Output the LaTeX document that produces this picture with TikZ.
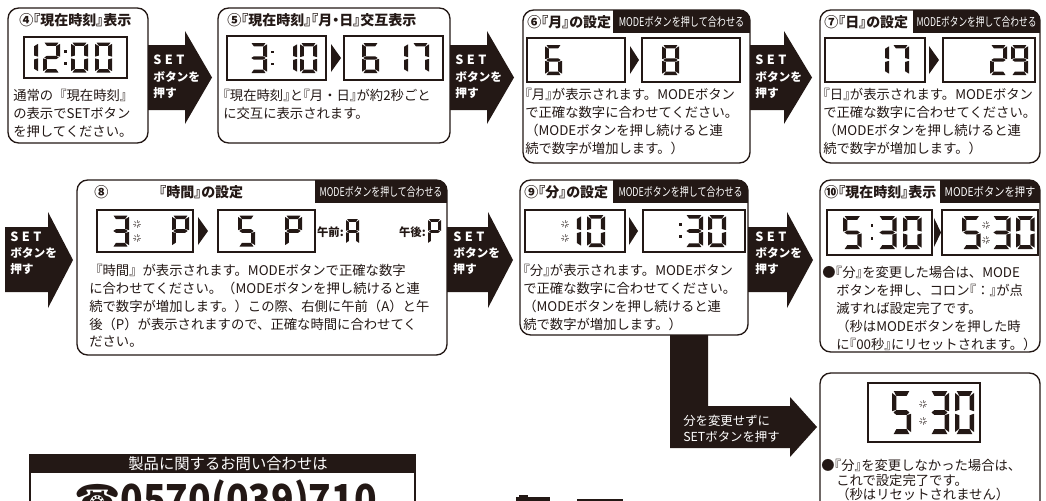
\documentclass[tikz,border=0pt]{standalone}
\usepackage{fontspec}
\setmainfont{Noto Sans CJK JP}
\newfontfamily\jpp{Noto Sans CJK JP}[RawFeature=+palt]
\newfontfamily\symfont{DejaVu Sans}
\definecolor{ink}{RGB}{35,24,21}
\def\sga{\fill[ink] (0.9,0)--(9.1,0)--(7.7,2.3)--(2.3,2.3)--cycle;}
\def\sgb{\fill[ink] (10,0.9)--(10,9.4)--(7.7,8.7)--(7.7,2.5)--cycle;}
\def\sgc{\fill[ink] (10,10.6)--(10,19.1)--(7.7,17.5)--(7.7,11.3)--cycle;}
\def\sgd{\fill[ink] (0.9,20)--(9.1,20)--(7.7,17.7)--(2.3,17.7)--cycle;}
\def\sge{\fill[ink] (0,10.6)--(0,19.1)--(2.3,17.5)--(2.3,11.3)--cycle;}
\def\sgf{\fill[ink] (0,0.9)--(0,9.4)--(2.3,8.7)--(2.3,2.5)--cycle;}
\def\sgg{\fill[ink] (0.8,10)--(2.3,8.85)--(7.7,8.85)--(9.2,10)--(7.7,11.15)--(2.3,11.15)--cycle;}
\newcommand\dg[5]{\begin{scope}[shift={(#1,#2)},xscale=#3,yscale=#4]\foreach \s in {#5}{\csname sg\s\endcsname}\end{scope}}
\newcommand\cln[3]{\fill[ink] (#1,#2) rectangle ++(2.8,2.8); \fill[ink] (#1,#3) rectangle ++(2.8,2.8);}
\newcommand\spk[2]{\foreach \ang in {0,45,...,315}{\draw[spark] (#1,#2) ++(\ang:1.3) -- ++(\ang:2.3);}}
\newcommand\txt[5]{\foreach \lineT [count=\i] in {#5}{\node[body] (#1\i) at (#2,{#3+(\i-1)*#4}) {\lineT};}}
\newcommand\bigarr[7]{\fill[ink] (#1,#4) -- (#2,#4) -- (#2,#6) -- (#3,{(#6+#7)/2}) -- (#2,#7) -- (#2,#5) -- (#1,#5) -- cycle;}
\newcommand\tri[4]{\fill[ink] (#1,#3) -- (#2,{(#3+#4)/2}) -- (#1,#4) -- cycle;}
\newcommand\ob[1]{\makebox[0.5em][r]{#1}}
\newcommand\cb[1]{\makebox[0.5em][l]{#1}}
\newcommand\tabt[2]{\resizebox{#1}{7.6pt}{\fontsize{9pt}{10pt}\selectfont #2}}
\newcommand\SET{S\hspace{2.6pt}E\hspace{2.6pt}T}
\tikzset{
 box/.style={draw=ink, line width=1pt, rounded corners=8pt},
 lcd/.style={draw=ink, line width=0.9pt},
 body/.style={anchor=west, inner sep=0pt, text=ink, font=\fontsize{10pt}{12pt}\selectfont},
 ttl/.style={anchor=west, inner sep=0pt, text=ink, font=\jpp\bfseries\fontsize{10.5pt}{12pt}\selectfont},
 tabtxt/.style={inner sep=0pt, text=white},
 arrtxt/.style={anchor=west, inner sep=0pt, text=white, font=\bfseries\fontsize{8.8pt}{12pt}\selectfont},
 settxt/.style={anchor=west, inner sep=0pt, text=white, font=\bfseries\fontsize{9.5pt}{12pt}\selectfont},
 ltxt/.style={anchor=west, inner sep=0pt, text=white, font=\fontsize{9.3pt}{11pt}\selectfont},
 ampm/.style={anchor=east, inner sep=0pt, text=ink, font=\jpp\bfseries\fontsize{8.5pt}{10pt}\selectfont},
 spark/.style={line width=0.6pt, draw=ink!55},
}
\begin{document}
\begin{tikzpicture}[x=0.75pt,y=-0.75pt]
\useasboundingbox (0,0) rectangle (1046,500);
\clip (0,0) rectangle (1046,500);
\fill[white] (0,0) rectangle (1046,500);
% ---------- box 4
\draw[box] (8,8) rectangle (148,143);
\node[ttl] (t4) at (19,20) {④『現在時刻』表示};
\draw[lcd] (24,37) rectangle (127,78);
\dg{21}{42.5}{1.7}{1.5}{b,c}
\dg{43}{42.5}{1.7}{1.5}{a,b,g,e,d}
\cln{64}{50}{62}
\dg{71}{42.5}{1.7}{1.5}{a,b,c,d,e,f}
\dg{95}{42.5}{1.7}{1.5}{a,b,c,d,e,f}
\txt{b4l}{13}{95}{18}{通常の『現在時刻』,の表示でSETボタン,を押してください。}
% arrow 1
\bigarr{148}{185}{212}{45}{110}{31}{124}
\node[settxt] (a1) at (153,60) {\SET};
\node[arrtxt] (a1b) at (153,77) {ボタンを};
\node[arrtxt] (a1c) at (153,93) {押す};
% ---------- box 5
\draw[box] (218,8) rectangle (450,143);
\node[ttl] (t5) at (227,20) {⑤『現在時刻』『月・日』交互表示};
\draw[lcd] (227,36) rectangle (326,80);
\dg{250}{43}{1.7}{1.5}{a,b,g,c,d}
\cln{271}{50.5}{62.5}
\dg{280}{43}{1.7}{1.5}{b,c}
\dg{300}{43}{1.7}{1.5}{a,b,c,d,e,f}
\tri{331}{341}{44}{72}
\draw[lcd] (344,36) rectangle (443,80);
\dg{362}{43}{1.7}{1.5}{a,f,g,e,c,d}
\dg{391}{43}{1.7}{1.5}{b,c}
\dg{412}{43}{1.7}{1.5}{a,b,c}
\txt{b5l}{223}{95}{18}{\ob{『}現在時刻\cb{』}と\ob{『}月・日\cb{』}が約2秒ごと,に交互に表示されます。}
% arrow 2
\bigarr{450}{487}{514}{45}{110}{31}{124}
\node[settxt] (a2) at (455,60) {\SET};
\node[arrtxt] (a2b) at (455,77) {ボタンを};
\node[arrtxt] (a2c) at (455,93) {押す};
% ---------- box 6
\begin{scope}
\clip[rounded corners=8pt] (523,10) rectangle (750,163);
\fill[ink] (613,10) rectangle (750,33);
\end{scope}
\draw[box] (523,10) rectangle (750,163);
\node[ttl] (t6) at (527,22) {⑥『月』の設定};
\node[tabtxt] (m6) at (681.5,21.5) {\tabt{94pt}{MODEボタンを押して合わせる}};
\draw[lcd] (527,38) rectangle (625,82);
\dg{545}{45}{1.7}{1.5}{a,f,g,e,c,d}
\tri{630}{639}{46}{74}
\draw[lcd] (642,38) rectangle (740,82);
\dg{662}{45}{1.7}{1.5}{a,b,c,d,e,f,g}
\txt{b6l}{525}{94}{18}{\ob{『}月\cb{』}が表示されます。MODEボタン,で正確な数字に合わせてください。,（MODEボタンを押し続けると連,続で数字が増加します。）}
% arrow 3
\bigarr{750}{784}{812}{45}{110}{31}{124}
\node[settxt] (a3) at (755,60) {\SET};
\node[arrtxt] (a3b) at (755,77) {ボタンを};
\node[arrtxt] (a3c) at (755,93) {押す};
% ---------- box 7
\begin{scope}
\clip[rounded corners=8pt] (820,10) rectangle (1040,163);
\fill[ink] (913,10) rectangle (1040,33);
\end{scope}
\draw[box] (820,10) rectangle (1040,163);
\node[ttl] (t7) at (824,22) {⑦『日』の設定};
\node[tabtxt] (m7) at (976.5,21.5) {\tabt{90pt}{MODEボタンを押して合わせる}};
\draw[lcd] (825,38) rectangle (925,82);
\dg{872}{45}{1.7}{1.5}{b,c}
\dg{892}{45}{1.7}{1.5}{a,b,c}
\tri{929}{939}{46}{74}
\draw[lcd] (943,38) rectangle (1035,82);
\dg{990}{45}{1.7}{1.5}{a,b,g,e,d}
\dg{1011}{45}{1.7}{1.5}{a,b,c,d,f,g}
\txt{b7l}{823}{94}{18}{\ob{『}日\cb{』}が表示されます。MODEボタン,で正確な数字に合わせてください。,（MODEボタンを押し続けると連,続で数字が増加します。）}
% ---------- arrow 4 (left)
\bigarr{5}{48}{73}{227}{292}{212}{308}
\node[settxt] (a4) at (10,237) {\SET};
\node[arrtxt] (a4b) at (10,253) {ボタンを};
\node[arrtxt] (a4c) at (10,269) {押す};
% ---------- box 8
\begin{scope}
\clip[rounded corners=8pt] (77,180) rectangle (447,355);
\fill[ink] (315,180) rectangle (447,203);
\end{scope}
\draw[box] (77,180) rectangle (447,355);
\node[ttl] (t8a) at (94,192) {⑧};
\node[ttl] (t8) at (159,192) {『時間』の設定};
\node[tabtxt] (m8) at (381,191.5) {\tabt{92pt}{MODEボタンを押して合わせる}};
\draw[lcd] (97,210) rectangle (193,252);
\dg{112}{215.5}{1.7}{1.55}{a,b,g,c,d}
\spk{137}{224}
\spk{137}{238}
\dg{172}{215.5}{1.7}{1.55}{a,b,e,f,g}
\tri{198}{208}{217}{245}
\draw[lcd] (218,210) rectangle (315,252);
\dg{238}{215.5}{1.7}{1.55}{a,f,g,c,d}
\dg{285}{215.5}{1.7}{1.55}{a,b,e,f,g}
\node[ampm] (am) at (344,232) {午前:};
\dg{346}{219}{1.3}{1.25}{a,b,c,e,f,g}
\node[ampm] (pm) at (426,232) {午後:};
\dg{428}{219}{1.3}{1.25}{a,b,e,f,g}
\txt{b8l}{89}{270}{18}{『時間』が表示されます。MODEボタンで正確な数字,に合わせてください。（MODEボタンを押し続けると連,続で数字が増加します。）この際、右側に午前（A）と午,後（P）が表示されますので、正確な時間に合わせてく,ださい。}
% arrow 5
\bigarr{447}{488}{513}{227}{292}{212}{308}
\node[settxt] (a5) at (453,237) {\SET};
\node[arrtxt] (a5b) at (453,253) {ボタンを};
\node[arrtxt] (a5c) at (453,269) {押す};
% ---------- box 9
\begin{scope}
\clip[rounded corners=8pt] (520,180) rectangle (748,335);
\fill[ink] (613,180) rectangle (748,203);
\end{scope}
\draw[box] (520,180) rectangle (748,335);
\node[ttl] (t9) at (524,192) {⑨『分』の設定};
\node[tabtxt] (m9) at (680.5,191.5) {\tabt{93pt}{MODEボタンを押して合わせる}};
\draw[lcd] (525,210) rectangle (625,252);
\spk{565}{224}
\spk{565}{238}
\dg{563}{215}{1.8}{1.6}{b,c}
\dg{587}{215}{1.8}{1.6}{a,b,c,d,e,f}
\tri{629}{638}{217}{245}
\draw[lcd] (643,210) rectangle (745,252);
\cln{679}{223}{235}
\dg{685}{215}{1.8}{1.6}{a,b,g,c,d}
\dg{708}{215}{1.8}{1.6}{a,b,c,d,e,f}
\txt{b9l}{523}{270}{18}{\ob{『}分\cb{』}が表示されます。MODEボタン,で正確な数字に合わせてください。,（MODEボタンを押し続けると連,続で数字が増加します。）}
% arrow 6
\bigarr{748}{787}{813}{227}{292}{212}{308}
\node[settxt] (a6) at (755,237) {\SET};
\node[arrtxt] (a6b) at (755,253) {ボタンを};
\node[arrtxt] (a6c) at (755,269) {押す};
% ---------- box 10
\begin{scope}
\clip[rounded corners=8pt] (820,180) rectangle (1040,352);
\fill[ink] (940,180) rectangle (1040,203);
\end{scope}
\draw[box] (820,180) rectangle (1040,352);
\node[ttl] (t10) at (824,192) {⑩『現在時刻』表示};
\node[tabtxt] (m10) at (990,191.5) {\tabt{68pt}{MODEボタンを押す}};
\draw[lcd] (827,210) rectangle (932,255);
\dg{843}{216}{1.85}{1.65}{a,f,g,c,d}
\cln{870.5}{224}{237}
\dg{878}{216}{1.85}{1.65}{a,b,g,c,d}
\dg{903}{216}{1.85}{1.65}{a,b,c,d,e,f}
\tri{934}{941}{218}{247}
\draw[lcd] (942,210) rectangle (1038,255);
\dg{962}{216}{1.85}{1.65}{a,f,g,c,d}
\spk{986}{225}
\spk{986}{240}
\dg{992}{216}{1.85}{1.65}{a,b,g,c,d}
\dg{1016}{216}{1.85}{1.65}{a,b,c,d,e,f}
\node[body] (b10l1) at (822,272) {●\ob{『}分\cb{』}を変更した場合は、MODE};
\txt{b10m}{836}{290}{18}{ボタンを押し、コロン\ob{『}：\cb{』}が点,滅すれば設定完了です。,（秒はMODEボタンを押した時,に\ob{『}00秒\cb{』}にリセットされます。）}
% ---------- L arrow
\fill[ink] (670,335) -- (708,335) -- (708,406) -- (790,406) -- (790,397) -- (817,427) -- (790,457) -- (790,448) -- (670,448) -- cycle;
\node[ltxt] (la) at (683,421) {分を変更せずに};
\node[ltxt] (lb) at (683,437) {SETボタンを押す};
% ---------- box 11
\draw[box] (820,373) rectangle (1040,515);
\draw[lcd] (868,383) rectangle (980,442);
\dg{892}{391}{1.9}{2.15}{a,f,g,c,d}
\spk{923}{404}
\spk{923}{421}
\dg{930}{391}{1.9}{2.15}{a,b,g,c,d}
\dg{955}{391}{1.9}{2.15}{a,b,c,d,e,f}
\node[body] (b11l1) at (821,465) {●\ob{『}分\cb{』}を変更しなかった場合は、};
\txt{b11m}{836}{480}{14.5}{これで設定完了です。,（秒はリセットされません）}
% ---------- contact
\fill[ink] (30,455) rectangle (415,473);
\draw[ink, line width=0.8pt] (30,455) rectangle (415,540);
\node[inner sep=0pt, text=white, font=\fontsize{11.5pt}{13pt}\selectfont] (q) at (228,464) {製品に関するお問い合わせは};
\node[anchor=base west, inner sep=0pt, text=ink, font=\bfseries\fontsize{31pt}{34pt}\selectfont] (tel) at (74,514) {\scalebox{0.9}[1]{{\symfont ☎}0570(039)710}};
\fill[ink] (516,497) rectangle (550,501);
\fill[ink] (519,495) rectangle (528,497);
\fill[ink] (577,498.5) rectangle (623,501);
\end{tikzpicture}
\end{document}
